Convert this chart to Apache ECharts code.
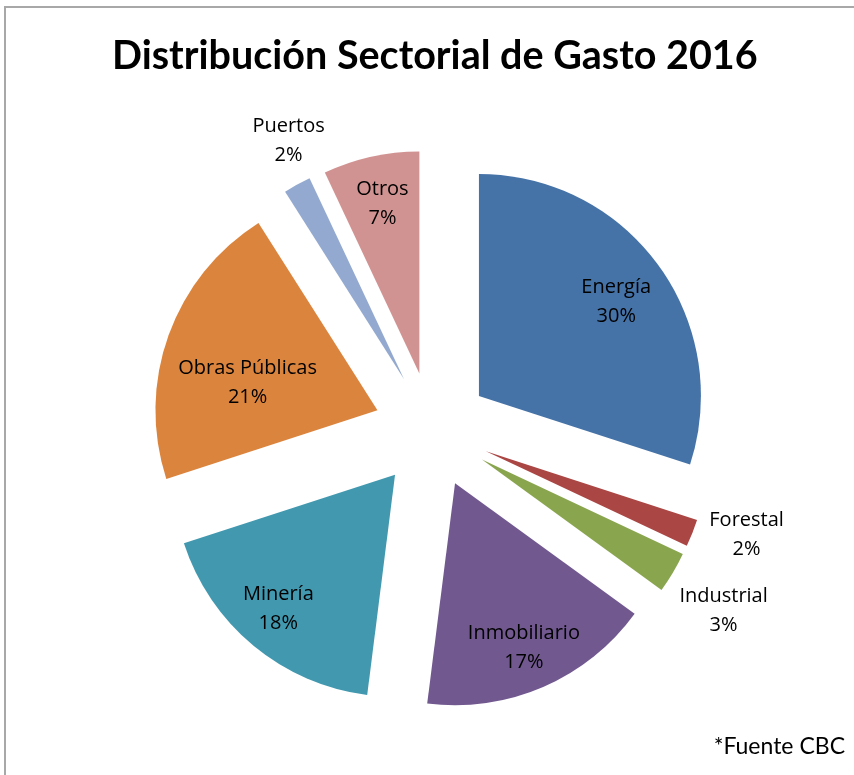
<!DOCTYPE html>
<html lang="es">
<head>
    <meta charset="UTF-8">
    <title>Distribución Sectorial de Gasto 2016</title>
    <style>
        html, body { margin: 0; padding: 0; background: #fff; }
        #chart { width: 854px; height: 775px; }
    </style>
</head>
<body>
    <div id="chart"></div>
    <script src="https://cdn.jsdelivr.net/npm/echarts@6/dist/echarts.min.js"></script>
    <script>
        // datos
        var sectores = ['Energía', 'Forestal', 'Industrial', 'Inmobiliario', 'Minería', 'Obras Públicas', 'Puertos', 'Otros'];
        var valores = [30, 2, 3, 17, 18, 21, 2, 7];
        var colores = ['#4572A7', '#AA4643', '#89A54E', '#71588F', '#4198AF', '#DB843D', '#93A9CF', '#D19392'];
        // sectores pequeños con etiqueta fuera
        var fuera = ['Forestal', 'Industrial', 'Puertos'];

        var centro = [432, 430];
        var R = 222;
        var separacion = 58;
        var fuenteTitulo = 'Lato, "Open Sans", sans-serif';
        var fuente = '"Open Sans", Lato, sans-serif';

        // ajuste fino de las etiquetas (px)
        var ajuste = {
            'Energía': [-7, 11],
            'Otros': [2, 4],
            'Obras Públicas': [38, 33],
            'Minería': [-3, -3],
            'Inmobiliario': [-2, 1],
            'Forestal': [5, -18],
            'Industrial': [5, 11],
            'Puertos': [17, 3]
        };

        function datos(conEtiqueta) {
            return sectores.map(function (s, i) {
                var item = {
                    name: s,
                    value: valores[i],
                    selected: true,
                    itemStyle: { color: conEtiqueta ? 'rgba(0,0,0,0)' : colores[i] }
                };
                if (conEtiqueta) item.label = { show: conEtiqueta(s) };
                return item;
            });
        }

        var etiqueta = {
            position: 'inside',
            formatter: '{b}\n{d}%',
            color: '#000',
            fontFamily: fuente,
            fontSize: 20,
            lineHeight: 29,
            align: 'center'
        };

        function moverEtiqueta(p) {
            var a = ajuste[sectores[p.dataIndex]] || [0, 0];
            return { dx: a[0], dy: a[1], hideOverlap: false };
        }

        var base = {
            type: 'pie',
            center: centro,
            startAngle: 90,
            clockwise: true,
            selectedMode: 'multiple',
            selectedOffset: separacion,
            avoidLabelOverlap: false,
            labelLine: { show: false },
            emphasis: { disabled: true },
            animation: false
        };

        var chart = echarts.init(document.getElementById('chart'));
        var option = {
            backgroundColor: '#fff',
            title: {
                text: 'Distribución Sectorial de Gasto 2016',
                left: 112,
                top: 36,
                padding: 0,
                textStyle: {
                    fontFamily: fuenteTitulo,
                    fontWeight: 'bold',
                    fontSize: 39.5,
                    color: '#000'
                }
            },
            graphic: [
                { type: 'line', shape: { x1: 4, y1: 7, x2: 854, y2: 7 }, style: { stroke: '#a8a8a8', lineWidth: 2 } },
                { type: 'line', shape: { x1: 5, y1: 7, x2: 5, y2: 775 }, style: { stroke: '#a8a8a8', lineWidth: 2 } },
                {
                    type: 'text', right: 9, top: 735,
                    style: { text: '*Fuente CBC', fill: '#000', font: '23px ' + fuenteTitulo }
                }
            ],
            series: [
                Object.assign({}, base, {
                    radius: [0, R],
                    label: { show: false },
                    data: datos()
                }),
                // etiquetas interiores
                Object.assign({}, base, {
                    radius: [0.58 * R, R],
                    silent: true,
                    label: etiqueta,
                    labelLayout: moverEtiqueta,
                    data: datos(function (s) { return fuera.indexOf(s) < 0; })
                }),
                // etiquetas exteriores
                Object.assign({}, base, {
                    radius: [1.1 * R, 1.35 * R],
                    silent: true,
                    label: etiqueta,
                    labelLayout: moverEtiqueta,
                    data: datos(function (s) { return fuera.indexOf(s) >= 0; })
                })
            ]
        };
        chart.setOption(option);
    </script>
</body>
</html>
